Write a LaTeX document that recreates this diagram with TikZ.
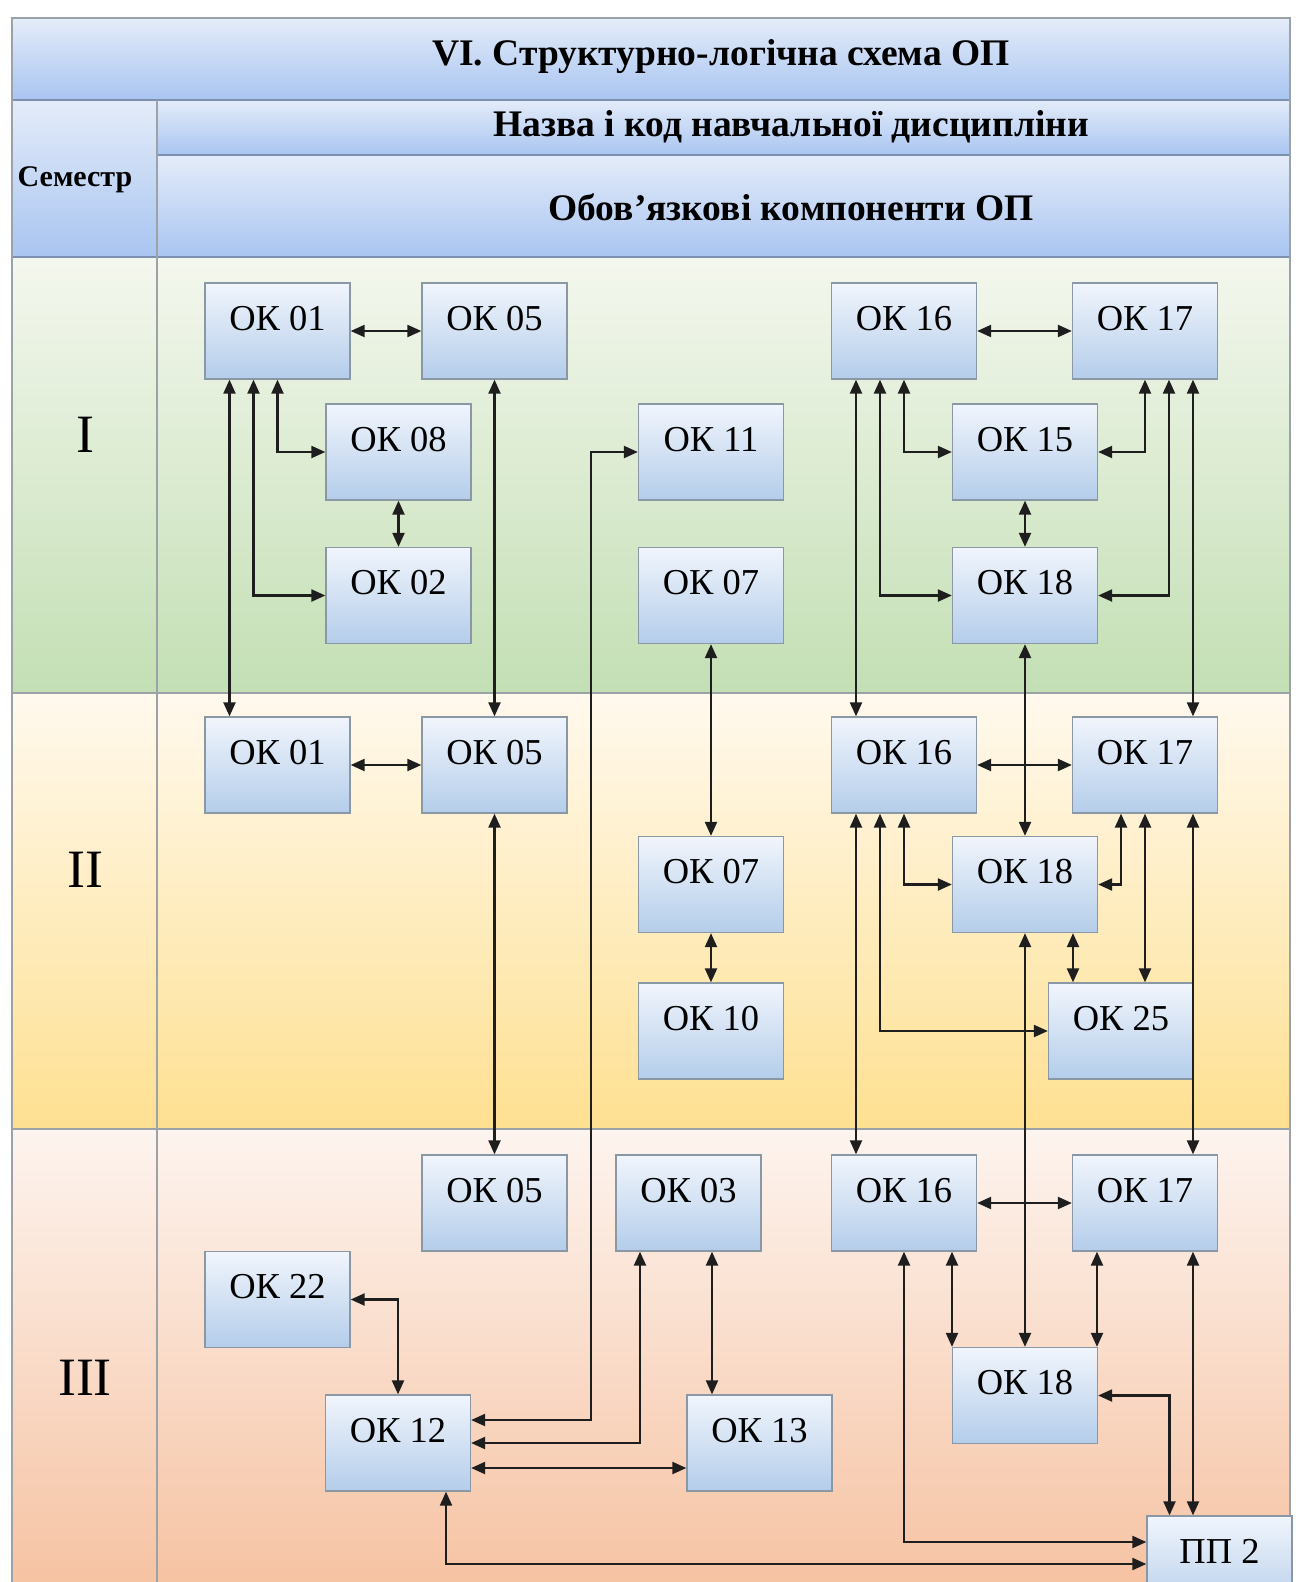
\documentclass[tikz,border=0pt]{standalone}
\usepackage{fontspec}
\setmainfont{Liberation Serif}
\usetikzlibrary{arrows.meta}
\definecolor{hdtop}{HTML}{E4ECF9}
\definecolor{hdbot}{HTML}{A9C5F1}
\definecolor{gtop}{HTML}{F4F7EE}
\definecolor{gbot}{HTML}{C3DFB4}
\definecolor{ytop}{HTML}{FFF9EE}
\definecolor{ybot}{HTML}{FEE091}
\definecolor{otop}{HTML}{FDF4EF}
\definecolor{obot}{HTML}{F6C3A3}
\definecolor{boxtop}{HTML}{F1F5FC}
\definecolor{boxbot}{HTML}{B4CDEA}
\definecolor{boxline}{HTML}{8A97A5}
\definecolor{framec}{HTML}{9BA3A8}
\definecolor{hdline}{HTML}{7D8FAE}
\definecolor{linec}{HTML}{1E1E1E}
\begin{document}
\begin{tikzpicture}[x=1pt,y=-1pt,
  okbox/.style={draw=boxline, line width=1.3pt, top color=boxtop, bottom color=boxbot,
    minimum width=145pt, inner xsep=0pt, inner ysep=0pt, text height=47pt, text depth=49pt,
    font=\fontsize{36.5}{40}\selectfont},
  conn/.style={draw=linec, line width=2.2pt, >={Triangle[length=14pt,width=12pt]}, <->},
  hdtext/.style={font=\bfseries\fontsize{37.5}{42}\selectfont, inner sep=0pt},
  semtext/.style={font=\fontsize{54}{60}\selectfont, inner sep=0pt}]
\useasboundingbox (0,0) rectangle (1299,1582);
\fill[white] (0,0) rectangle (1299,1582);
% header
\shade[top color=hdtop, bottom color=hdbot] (12,18) rectangle (1290,100);
\shade[top color=hdtop, bottom color=hdbot] (12,100) rectangle (157,257);
\shade[top color=hdtop, bottom color=hdbot] (157,100) rectangle (1290,155);
\shade[top color=hdtop, bottom color=hdbot] (157,155) rectangle (1290,257);
% bands
\shade[top color=gtop, bottom color=gbot] (12,257) rectangle (1290,693);
\shade[top color=ytop, bottom color=ybot] (12,693) rectangle (1290,1129);
\shade[top color=otop, bottom color=obot] (12,1129) rectangle (1290,1582);
% grid lines
\draw[hdline, line width=1.2pt] (12,100) -- (1290,100);
\draw[hdline, line width=2pt] (157,155) -- (1290,155);
\draw[hdline, line width=1.5pt] (12,257) -- (1290,257);
\draw[framec, line width=1.5pt] (12,693) -- (1290,693);
\draw[framec, line width=1.5pt] (12,1129) -- (1290,1129);
\draw[framec, line width=1.5pt] (12,1582) -- (12,18) -- (1290,18) -- (1290,1582);
\draw[framec, line width=1.5pt] (157,100) -- (157,1582);
% header texts
\node[hdtext] (t1) at (721,57) {VI. Структурно-логічна схема ОП};
\node[hdtext] (t2) at (791,127) {Назва і код навчальної дисципліни};
\node[hdtext] (t3) at (791,207) {Обов’язкові компоненти ОП};
\node[hdtext, font=\bfseries\fontsize{30}{34}\selectfont] (t4) at (75,180) {Семестр};
\node[semtext] (s1) at (85,435) {I};
\node[semtext] (s2) at (85,870) {II};
\node[semtext] (s3) at (85,1378) {III};
% semester I
\node[okbox] (a01) at (277.5,331) {ОК 01};
\node[okbox] (a05) at (494.5,331) {ОК 05};
\node[okbox] (a16) at (904,331) {ОК 16};
\node[okbox] (a17) at (1145,331) {ОК 17};
\node[okbox] (a08) at (398.5,452) {ОК 08};
\node[okbox] (a11) at (711,452) {ОК 11};
\node[okbox] (a15) at (1025,452) {ОК 15};
\node[okbox] (a02) at (398.5,595.5) {ОК 02};
\node[okbox] (a07) at (711,595.5) {ОК 07};
\node[okbox] (a18) at (1025,595.5) {ОК 18};
% semester II
\node[okbox] (b01) at (277.5,765) {ОК 01};
\node[okbox] (b05) at (494.5,765) {ОК 05};
\node[okbox] (b16) at (904,765) {ОК 16};
\node[okbox] (b17) at (1145,765) {ОК 17};
\node[okbox] (b07) at (711,884.5) {ОК 07};
\node[okbox] (b18) at (1025,884.5) {ОК 18};
\node[okbox] (b10) at (711,1031) {ОК 10};
\node[okbox] (b25) at (1121,1031) {ОК 25};
% semester III
\node[okbox] (c05) at (494.5,1203) {ОК 05};
\node[okbox] (c03) at (688.5,1203) {ОК 03};
\node[okbox] (c16) at (904,1203) {ОК 16};
\node[okbox] (c17) at (1145,1203) {ОК 17};
\node[okbox] (c22) at (277.5,1299.5) {ОК 22};
\node[okbox] (c18) at (1025,1395.5) {ОК 18};
\node[okbox] (c12) at (398,1443) {ОК 12};
\node[okbox] (c13) at (759.5,1443) {ОК 13};
\node[okbox] (pp2) at (1219.5,1564) {ПП 2};
% port coordinates
\coordinate (a01l) at ([xshift=-48pt]a01.south);
\coordinate (a01m) at ([xshift=-24pt]a01.south);
\coordinate (a16l) at ([xshift=-48pt]a16.south);
\coordinate (a16m) at ([xshift=-24pt]a16.south);
\coordinate (a17m) at ([xshift=24pt]a17.south);
\coordinate (a17r) at ([xshift=48pt]a17.south);
\coordinate (b16l) at ([xshift=-48pt]b16.south);
\coordinate (b16m) at ([xshift=-24pt]b16.south);
\coordinate (b17m) at ([xshift=-24pt]b17.south);
\coordinate (b17r) at ([xshift=48pt]b17.south);
\coordinate (b18r) at ([xshift=48pt]b18.south);
\coordinate (c03l) at ([xshift=-48.5pt]c03.south);
\coordinate (c03r) at ([xshift=23.5pt]c03.south);
\coordinate (c12r) at ([xshift=48pt]c12.south);
\coordinate (c16r) at ([xshift=48pt]c16.south);
\coordinate (c17l) at ([xshift=-48pt]c17.south);
\coordinate (c17r) at ([xshift=48pt]c17.south);
\coordinate (pp2l) at ([xshift=-50pt]pp2.north);
% semester I connectors
\draw[conn] (a01.east) -- (a05.west);
\draw[conn] (a16.east) -- (a17.west);
\draw[conn] (a01.south) |- (a08.west);
\draw[conn] (a01m) |- (a02.west);
\draw[conn] (a08.south) -- (a02.north);
\draw[conn] (a01l) -- (a01l |- b01.north);
\draw[conn] (a05.south) -- (b05.north);
\draw[conn] (a07.south) -- (b07.north);
\draw[conn] (a16.south) |- (a15.west);
\draw[conn] (a16m) |- (a18.west);
\draw[conn] (a16l) -- (a16l |- b16.north);
\draw[conn] (a17.south) |- (a15.east);
\draw[conn] (a17m) |- (a18.east);
\draw[conn] (a17r) -- (a17r |- b17.north);
\draw[conn] (a15.south) -- (a18.north);
\draw[conn] (a18.south) -- (b18.north);
\draw[conn] (a11.west) -- ++(-47,0) |- ([yshift=23pt]c12.east);
% semester II connectors
\draw[conn] (b01.east) -- (b05.west);
\draw[conn] (b16.east) -- (b17.west);
\draw[conn] (b05.south) -- (c05.north);
\draw[conn] (b07.south) -- (b10.north);
\draw[conn] (b16.south) |- (b18.west);
\draw[conn] (b16m) |- (b25.west);
\draw[conn] (b16l) -- (b16l |- c16.north);
\draw[conn] (b17m) |- (b18.east);
\draw[conn] (b17.south) -- (b17.south |- b25.north);
\draw[conn] (b17r) -- (b17r |- c17.north);
\draw[conn] (b18r) -- (b18r |- b25.north);
\draw[conn] (b18.south) -- (c18.north);
% semester III connectors
\draw[conn] (c16.east) -- (c17.west);
\draw[conn] (c22.east) -| (c12.north);
\draw[conn] (c03l) |- (c12.east);
\draw[conn] (c03r) -- (c03r |- c13.north);
\draw[conn] ([yshift=-25pt]c12.east) -- ([yshift=-25pt]c13.west);
\draw[conn] (c12r) |- (pp2.west);
\draw[conn] (c16.south) |- ([yshift=22pt]pp2.west);
\draw[conn] (c16r) -- (c16r |- c18.north);
\draw[conn] (c17l) -- (c17l |- c18.north);
\draw[conn] (c17r) -- (c17r |- pp2.north);
\draw[conn] (c18.east) -| (pp2l);
\end{tikzpicture}
\end{document}
